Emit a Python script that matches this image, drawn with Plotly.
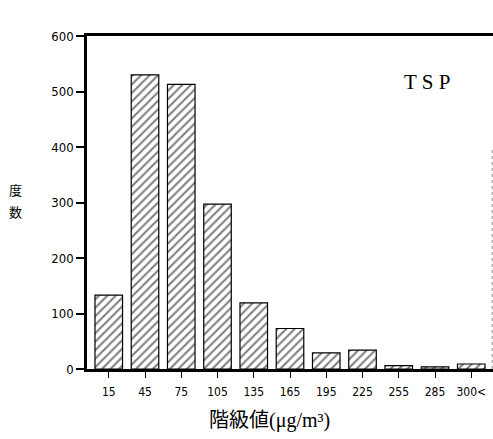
import plotly.graph_objects as go

# Class midpoints (µg/m³) and frequency counts
categories = ["15", "45", "75", "105", "135", "165", "195", "225", "255", "285", "300<"]
counts = [133, 530, 513, 297, 119, 73, 29, 34, 6, 4, 9]
y_ticks = [0, 100, 200, 300, 400, 500, 600]
y_title_chars = ["度", "数"]

cond = "DejaVu Sans Condensed, Liberation Sans Narrow, Arial Narrow, sans-serif"
serif = "Liberation Serif, DejaVu Serif, serif"
cjk = "Noto Sans CJK JP, Noto Sans CJK SC, sans-serif"

fig = go.Figure(
    go.Bar(
        x=list(range(len(categories))),
        y=counts,
        width=0.76,
        marker=dict(
            color="white",
            line=dict(color="black", width=1.2),
            pattern=dict(shape="/", fgcolor="black", bgcolor="white",
                         size=6, solidity=0.35),
        ),
    )
)

fig.update_layout(
    width=493, height=439,
    margin=dict(l=87, r=0, t=36, b=70),
    plot_bgcolor="white", paper_bgcolor="white",
    showlegend=False,
    bargap=0.2,
)

fig.update_xaxes(
    range=[-0.6, 10.6],
    tickmode="array",
    tickvals=list(range(len(categories))),
    ticktext=categories,
    ticks="outside", ticklen=6, tickwidth=1, tickcolor="black",
    ticklabelstandoff=4,
    tickfont=dict(family=cond, size=12, color="black"),
    showline=True, linecolor="black", linewidth=2.5, mirror=True,
    showgrid=False, zeroline=False,
)

fig.update_yaxes(
    range=[0, 600],
    tickmode="array",
    tickvals=y_ticks,
    ticktext=[str(v) for v in y_ticks],
    ticks="outside", ticklen=8, tickwidth=1.5, tickcolor="black",
    tickfont=dict(family=cond, size=13, color="black"),
    showline=True, linecolor="black", linewidth=2.5,
    showgrid=False, zeroline=False,
)

# faint right-hand frame edge
fig.add_shape(type="line", xref="paper", yref="y",
              x0=0.998, x1=0.998, y0=0, y1=395,
              line=dict(color="#888888", width=1, dash="dot"))

fig.add_annotation(text="T S P", xref="paper", yref="paper",
                   x=0.837, y=0.862, xanchor="center", yanchor="middle",
                   showarrow=False,
                   font=dict(family=serif, size=21, color="black"))

fig.add_annotation(text="階級値(μg/m³)", xref="paper", yref="paper",
                   x=0.45, y=-0.155, xanchor="center", yanchor="middle",
                   showarrow=False,
                   font=dict(family=serif + ", " + cjk, size=20, color="black"))

# vertical y-axis title, one character per annotation
for i, ch in enumerate(y_title_chars):
    fig.add_annotation(text=ch, xref="paper", yref="paper",
                       x=-0.175, y=0.54 - i * 0.068,
                       xanchor="center", yanchor="middle", showarrow=False,
                       font=dict(family=cjk, size=13, color="black"))

fig.write_html("out.html")
